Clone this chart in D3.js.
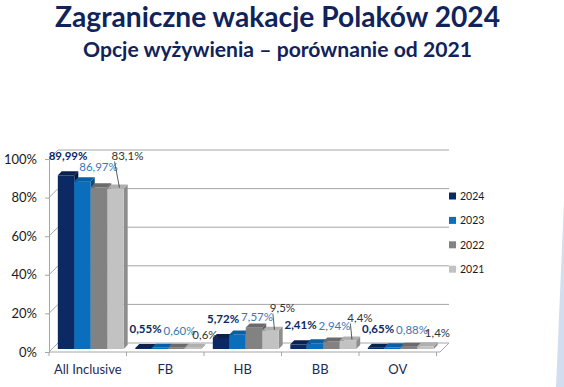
<!doctype html>
<html lang="pl">
<head>
<meta charset="utf-8">
<title>Zagraniczne wakacje Polaków 2024</title>
<script src="https://cdn.jsdelivr.net/npm/d3@7"></script>
<style>
  body { margin: 0; background: #fff; }
  svg { display: block; font-family: Lato, "Open Sans", sans-serif; }
</style>
</head>
<body>
<svg id="chart" width="564" height="387"></svg>
<script>
const categories = ["All Inclusive", "FB", "HB", "BB", "OV"];
const years = ["2024", "2023", "2022", "2021"];
const values2024 = [89.99, 0.55, 5.72, 2.41, 0.65];
const values2023 = [86.97, 0.60, 7.57, 2.94, 0.88];
const values2022 = [83.8, 0.6, 11.2, 3.9, 1.2];   // no labels on the slide
const values2021 = [83.1, 0.6, 9.5, 4.4, 1.4];
const yTicks = [0, 20, 40, 60, 80, 100];

const series = [
  { year: "2024", values: values2024, front: "#0b2a63", top: "#0a2250", side: "#071a3e", label: "#0b2a63", bold: true, digits: 2 },
  { year: "2023", values: values2023, front: "#0b6ebd", top: "#0a5fa3", side: "#084c83", label: "#3a78b5", bold: false, digits: 2 },
  { year: "2022", values: values2022, front: "#828282", top: "#6b6b6b", side: "#5e5e5e", label: null },
  { year: "2021", values: values2021, front: "#c2c2c2", top: "#afafaf", side: "#8e8e8e", label: "#333", bold: false, digits: 1 }
];

const svg = d3.select("#chart");

// right edge of the slide background
svg.append("path")
  .attr("d", "M564,200 L556,387 L564,387 Z")
  .attr("fill", "#d3ddf0");

// titles
svg.append("text")
  .attr("x", 277.5).attr("y", 27)
  .attr("text-anchor", "middle")
  .attr("textLength", 445).attr("lengthAdjust", "spacingAndGlyphs")
  .style("font-size", "28px").style("font-weight", "bold").style("fill", "#10235a")
  .text("Zagraniczne wakacje Polaków 2024");

svg.append("text")
  .attr("x", 277.5).attr("y", 57)
  .attr("text-anchor", "middle")
  .attr("textLength", 389).attr("lengthAdjust", "spacingAndGlyphs")
  .style("font-size", "20px").style("font-weight", "bold").style("fill", "#10235a")
  .text("Opcje wyżywienia – porównanie od 2021");

// scales (front plane), depth goes up-right
const depth = 9, barShift = 3, barDepth = 4;
const x = d3.scaleBand().domain(categories).range([49, 436.5]).paddingInner(0.15).paddingOuter(0.075);
const xs = d3.scaleBand().domain(years).range([0, x.bandwidth()]);
const y = d3.scaleLinear().domain([0, 100]).range([352, 159]);
const right = 440;

const grid = svg.append("g");
// floor
grid.append("path")
  .attr("d", `M49,${y(0)} L${right},${y(0)} L${right + depth},${y(0) - depth} L${49 + depth},${y(0) - depth} Z`)
  .attr("fill", "#fff").attr("stroke", "#a6a6a6");
// back wall gridlines and depth lines
yTicks.forEach(t => {
  if (t > 0) {
    grid.append("line")
      .attr("x1", 49 + depth).attr("x2", right + depth)
      .attr("y1", y(t) - depth).attr("y2", y(t) - depth)
      .attr("stroke", "#a6a6a6");
  }
  grid.append("line")
    .attr("x1", 49).attr("x2", 49 + depth)
    .attr("y1", y(t)).attr("y2", y(t) - depth)
    .attr("stroke", "#a6a6a6");
});

// y axis
const yAxis = svg.append("g")
  .attr("transform", "translate(49,0)")
  .call(d3.axisLeft(y).tickValues(yTicks).tickFormat(d => d + "%").tickSize(4).tickPadding(8));
yAxis.select(".domain").attr("stroke", "#a6a6a6");
yAxis.selectAll(".tick line").attr("stroke", "#a6a6a6");
yAxis.selectAll("text").style("font-size", "13px").style("fill", "#1a1a1a").style("font-family", "Lato, sans-serif");

// x axis: labels at band centres, ticks at band boundaries
const xAxis = svg.append("g")
  .attr("transform", `translate(0,${y(0)})`)
  .call(d3.axisBottom(x).tickSize(0).tickPadding(13));
xAxis.select(".domain").remove();
xAxis.selectAll("text").style("font-size", "13px").style("fill", "#1d2b57").style("font-family", "Lato, sans-serif");
const half = x.paddingInner() * x.step() / 2;
categories.concat([null]).forEach((c, i) => {
  const bx = c ? x(c) - half : x(categories[i - 1]) + x.bandwidth() + half;
  svg.append("line")
    .attr("x1", bx).attr("x2", bx).attr("y1", y(0)).attr("y2", y(0) + 4)
    .attr("stroke", "#a6a6a6");
});

// bars
const bars = svg.append("g");
const w = xs.bandwidth();
categories.forEach((c, i) => {
  series.forEach(s => {
    const x0 = x(c) + xs(s.year) + barShift;
    const yb = y(0) - barShift;
    const yt = y(s.values[i]) - barShift;
    const d = barDepth;
    bars.append("path")
      .attr("d", `M${x0 + w},${yt} L${x0 + w + d},${yt - d} L${x0 + w + d},${yb - d} L${x0 + w},${yb} Z`)
      .attr("fill", s.side);
    bars.append("rect")
      .attr("x", x0).attr("y", yt).attr("width", w).attr("height", yb - yt)
      .attr("fill", s.front);
    bars.append("path")
      .attr("d", `M${x0},${yt} L${x0 + w},${yt} L${x0 + w + d},${yt - d} L${x0 + d},${yt - d} Z`)
      .attr("fill", s.top);
  });
});

// data labels: 2024 and 2023 first, then 2021, nudging away from labels already placed
const fmt = (v, digits) => v.toFixed(digits).replace(".", ",") + "%";
const labels = svg.append("g").style("font-size", "11.5px");
const placed = [];
const hits = (lx, ly, tw, minOverlap) => placed
  .map(p => ({ p, ox: Math.min(lx + tw / 2, p.x + p.w / 2) - Math.max(lx - tw / 2, p.x - p.w / 2) }))
  .filter(o => o.ox > minOverlap && Math.abs(ly - o.p.y) < 11);
[0, 1, 3].forEach(si => {
  const s = series[si];
  categories.forEach((c, i) => {
    const cx = x(c) + xs(s.year) + barShift + w / 2;
    const top = y(s.values[i]) - barShift;
    let lx, ly;
    if (si === 0) { lx = cx + 2; ly = top - 15; }
    else if (si === 1) { lx = cx + 16; ly = top - 13; }
    else { lx = cx + 12; ly = top - 9; }
    const t = labels.append("text")
      .attr("text-anchor", "middle")
      .style("fill", s.label)
      .style("font-weight", s.bold ? "bold" : "normal")
      .text(fmt(s.values[i], s.digits));
    const tw = t.node().getComputedTextLength();
    if (si === 1) {
      hits(lx, ly, tw, 0.5).forEach(o => {
        if (ly - o.p.y > 4) ly = o.p.y + 11;   // stacked under a higher label: drop below it
        else lx += o.ox + 2;                    // same height: slide right
      });
    } else if (si === 3) {
      while (hits(lx, ly, tw, 4).length) ly -= 10;     // lift above
    }
    t.attr("x", lx).attr("y", ly);
    placed.push({ x: lx, y: ly, w: tw });
    if (si === 3 && top - ly > 12) {
      labels.append("line")
        .attr("x1", cx + 4).attr("y1", top - 1)
        .attr("x2", lx - tw / 2 + 3).attr("y2", ly + 2)
        .attr("stroke", "#333").attr("stroke-width", 0.8);
    }
  });
});

// legend
const legend = svg.append("g").attr("transform", "translate(449,196)");
series.forEach((s, i) => {
  const g = legend.append("g").attr("transform", `translate(0,${i * 24.4})`);
  g.append("rect").attr("x", 0).attr("y", -3.5).attr("width", 7).attr("height", 7).attr("fill", s.front);
  g.append("text").attr("x", 11).attr("y", 4)
    .style("font-size", "10.5px").style("fill", "#1a1a1a")
    .text(s.year);
});
</script>
</body>
</html>
